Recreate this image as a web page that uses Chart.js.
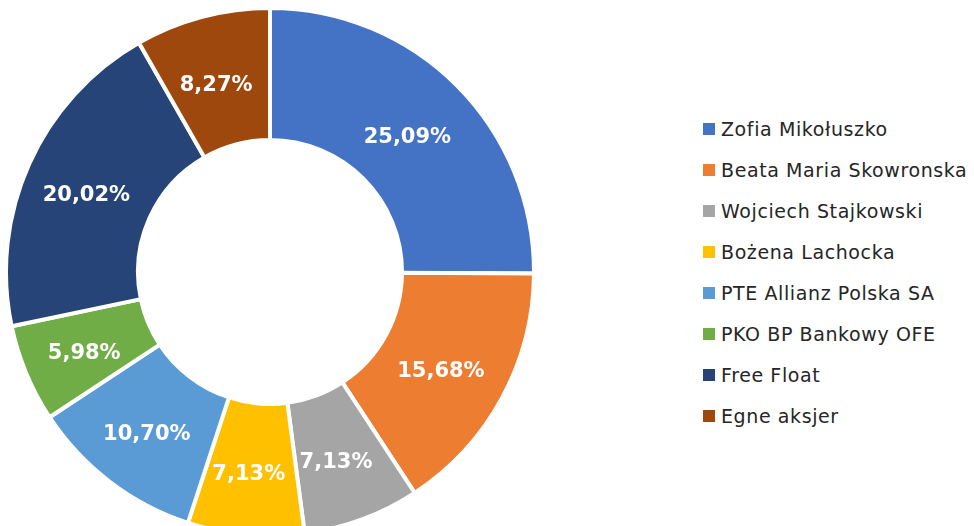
<!DOCTYPE html>
<html>
<head>
<meta charset="utf-8">
<script src="https://cdn.jsdelivr.net/npm/chart.js@4.4.1/dist/chart.umd.min.js"></script>
<style>
  html, body { margin: 0; padding: 0; background: #fff; overflow: hidden; width: 974px; height: 526px; }
  #wrap { position: absolute; left: 4px; top: 6px; width: 532px; height: 532px; }
  #legend { position: absolute; left: 703px; top: 108px; font-family: "DejaVu Sans", sans-serif; font-size: 19px; letter-spacing: 0.6px; color: #262626; }
  .item { height: 41px; display: flex; align-items: center; white-space: nowrap; }
  .box { width: 12px; height: 12px; margin-right: 6px; flex: none; }
</style>
</head>
<body>
<div id="wrap"><canvas id="report"></canvas></div>
<div id="legend"></div>
<script>
var categories = ['Zofia Mikołuszko', 'Beata Maria Skowronska', 'Wojciech Stajkowski', 'Bożena Lachocka',
    'PTE Allianz Polska SA', 'PKO BP Bankowy OFE', 'Free Float', 'Egne aksjer'];
var shares = [25.09, 15.68, 7.13, 7.13, 10.70, 5.98, 20.02, 8.27];
var colors = ['#4472C4', '#ED7D31', '#A5A5A5', '#FFC000', '#5B9BD5', '#70AD47', '#264478', '#9E480E'];

// etykiety procentowe w środku każdego wycinka
var sliceLabels = {
    id: 'sliceLabels',
    afterDatasetsDraw: function(chart) {
        var ctx = chart.ctx;
        var meta = chart.getDatasetMeta(0);
        ctx.save();
        ctx.font = 'bold 21px "DejaVu Sans", sans-serif';
        ctx.fillStyle = '#fff';
        ctx.textAlign = 'center';
        ctx.textBaseline = 'middle';
        meta.data.forEach(function(arc, i) {
            var p = arc.tooltipPosition();
            ctx.fillText(shares[i].toFixed(2).replace('.', ',') + '%', p.x - 3, p.y + 5);
        });
        ctx.restore();
    }
};

new Chart(document.getElementById('report').getContext('2d'), {
    type: 'doughnut',
    data: {
        labels: categories,
        datasets: [{
            data: shares,
            backgroundColor: colors,
            borderColor: '#fff',
            borderWidth: 4
        }]
    },
    options: {
        responsive: true,
        maintainAspectRatio: false,
        animation: false,
        cutout: '50%',
        plugins: {
            legend: { display: false },
            tooltip: { enabled: false }
        }
    },
    plugins: [sliceLabels]
});

var legend = document.getElementById('legend');
categories.forEach(function(name, i) {
    var row = document.createElement('div');
    row.className = 'item';
    row.innerHTML = '<span class="box" style="background:' + colors[i] + '"></span><span>' + name + '</span>';
    legend.appendChild(row);
});
</script>
</body>
</html>
